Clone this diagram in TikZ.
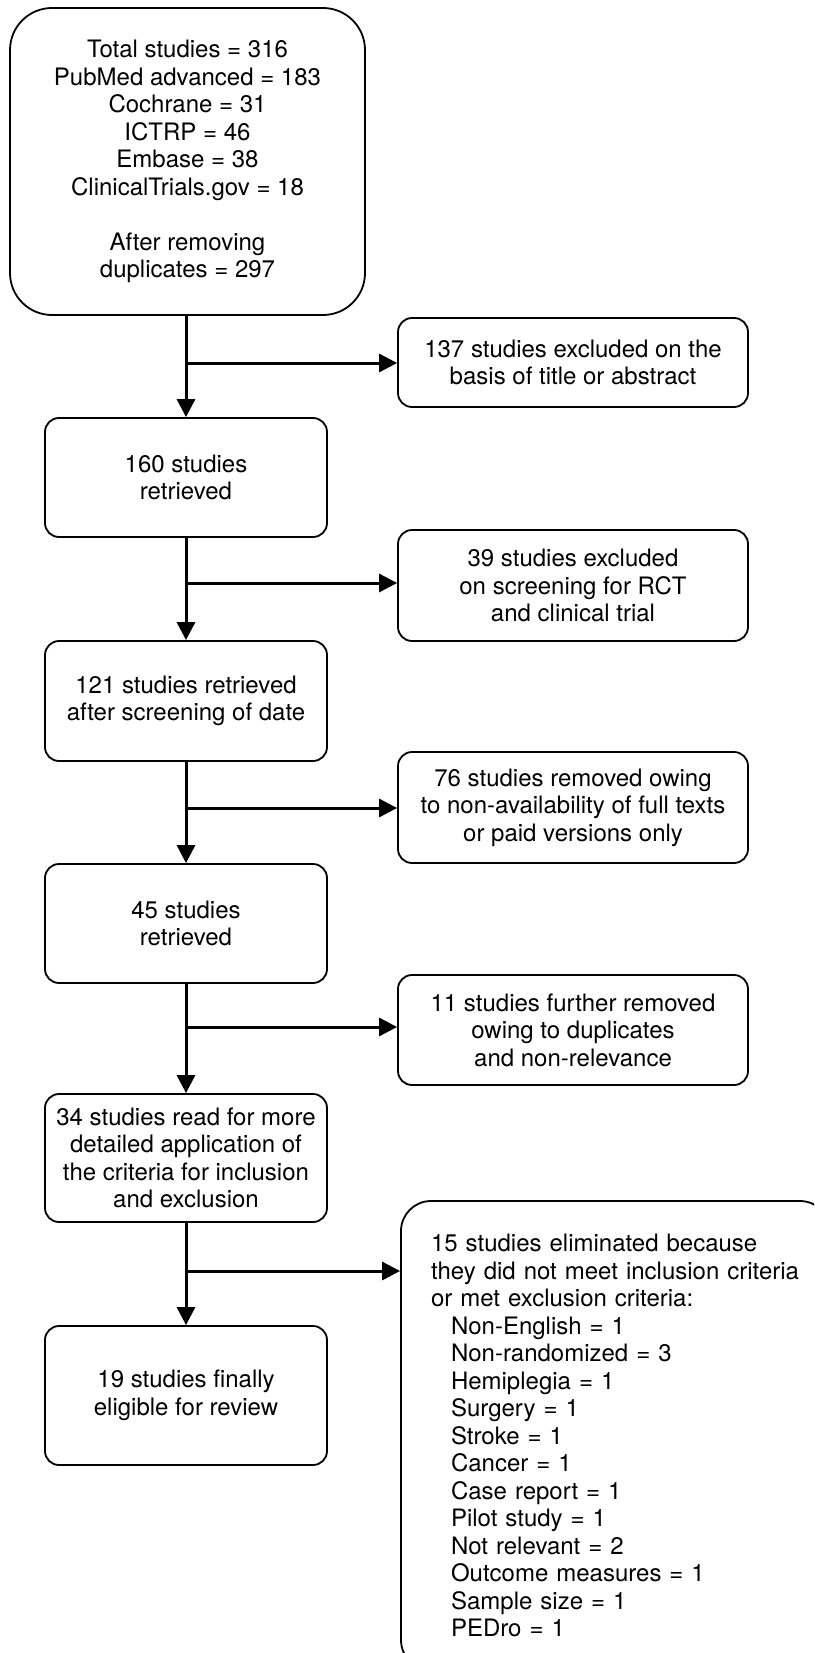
\documentclass[tikz,border=0pt]{standalone}
\usepackage{fontspec}
\setmainfont{TeX Gyre Heros}
\usetikzlibrary{arrows.meta}
\begin{document}
\begin{tikzpicture}[x=1pt,y=-1pt,
  box/.style={draw, line width=1.8pt, rounded corners=14pt, align=center,
    font=\fontsize{24}{27.5}\selectfont, inner sep=0pt},
  leftbox/.style={box, minimum width=282pt},
  rightbox/.style={box, minimum width=350pt},
  arr/.style={line width=3pt, -{Triangle[length=18pt,width=18pt]}}]
\useasboundingbox (0,0) rectangle (814,1653);
\clip (0,0) rectangle (814,1653);
\node[box, rounded corners=42pt, minimum width=355pt, minimum height=307pt] (n0) at (187.5,161.5)
  {Total studies = 316\\PubMed advanced = 183\\Cochrane = 31\\ICTRP = 46\\Embase = 38\\ClinicalTrials.gov = 18\\[27.5pt]After removing\\duplicates = 297};
\node[leftbox, minimum height=119pt] (n1) at (186,477.5) {160 studies\\retrieved};
\node[leftbox, minimum height=120pt] (n2) at (186,701) {121 studies retrieved\\after screening of date};
\node[leftbox, minimum height=119pt] (n3) at (186,923.5) {45 studies\\retrieved};
\node[leftbox, minimum height=128pt] (n4) at (186,1158) {34 studies read for more\\detailed application of\\the criteria for inclusion\\and exclusion};
\node[leftbox, minimum height=139pt] (n5) at (186,1395.5) {19 studies finally\\eligible for review};
\node[rightbox, minimum height=89pt] (r1) at (573,362.5) {137 studies excluded on the\\basis of title or abstract};
\node[rightbox, minimum height=111pt] (r2) at (573,585.5) {39 studies excluded\\on screening for RCT\\and clinical trial};
\node[rightbox, minimum height=111pt] (r3) at (573,807.5) {76 studies removed owing\\to non-availability of full texts\\or paid versions only};
\node[rightbox, minimum height=110pt] (r4) at (573,1030) {11 studies further removed\\owing to duplicates\\and non-relevance};
\node[box, rounded corners=30pt, align=left, inner xsep=30pt, text width=369pt, minimum height=469pt] (r5) at (615.5,1435.5)
  {15 studies eliminated because\\they did not meet inclusion criteria\\or met exclusion criteria:\\
  \hspace*{20pt}Non-English = 1\\\hspace*{20pt}Non-randomized = 3\\\hspace*{20pt}Hemiplegia = 1\\
  \hspace*{20pt}Surgery = 1\\\hspace*{20pt}Stroke = 1\\\hspace*{20pt}Cancer = 1\\
  \hspace*{20pt}Case report = 1\\\hspace*{20pt}Pilot study = 1\\\hspace*{20pt}Not relevant = 2\\
  \hspace*{20pt}Outcome measures = 1\\\hspace*{20pt}Sample size = 1\\\hspace*{20pt}PEDro = 1};
\coordinate (c1) at (186,363);
\coordinate (c2) at (186,583);
\coordinate (c3) at (186,808);
\coordinate (c4) at (186,1027);
\coordinate (c5) at (186,1271);
\draw[arr] (n1.north |- n0.south) -- (n1.north);
\draw[arr] (n1.south) -- (n2.north);
\draw[arr] (n2.south) -- (n3.north);
\draw[arr] (n3.south) -- (n4.north);
\draw[arr] (n4.south) -- (n5.north);
\draw[arr] (c1) -- (c1 -| r1.west);
\draw[arr] (c2) -- (c2 -| r2.west);
\draw[arr] (c3) -- (c3 -| r3.west);
\draw[arr] (c4) -- (c4 -| r4.west);
\draw[arr] (c5) -- (c5 -| r5.west);
\end{tikzpicture}
\end{document}
